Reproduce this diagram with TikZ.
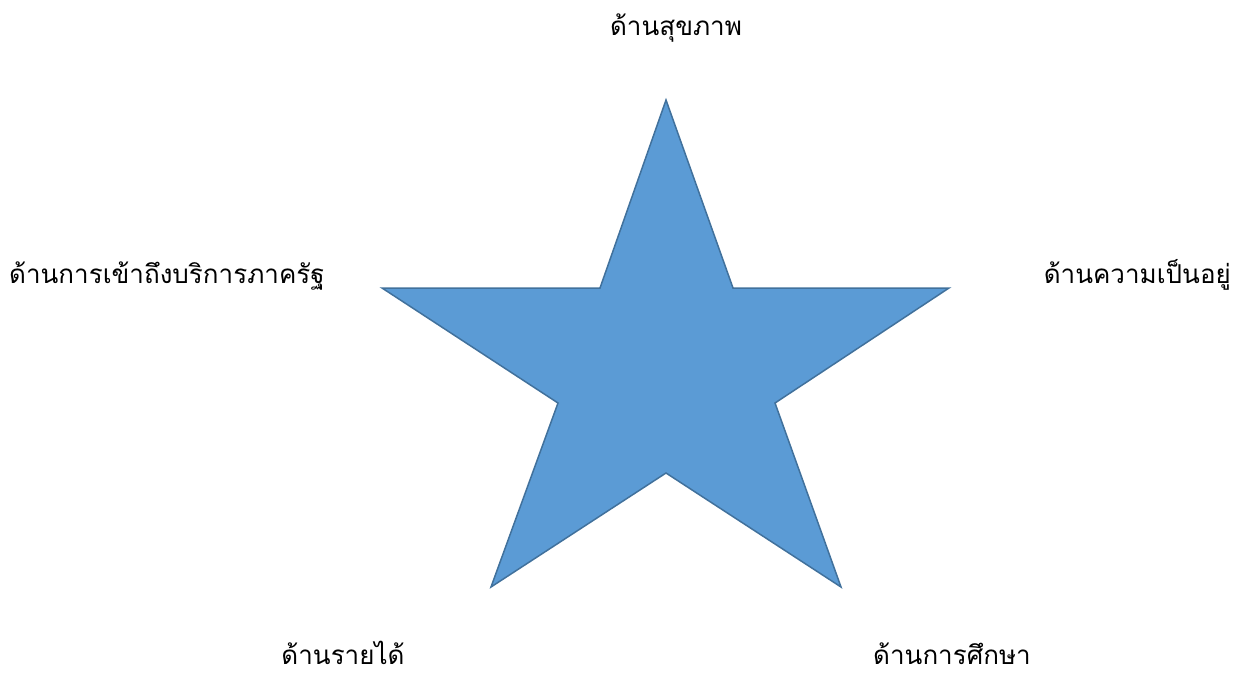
\documentclass[tikz,border=0pt]{standalone}
\usepackage{fontspec}
\newfontfamily\thaifont[Script=Thai]{Loma}
\definecolor{starfill}{HTML}{5B9BD5}
\definecolor{starline}{HTML}{41719C}
\tikzset{lbl/.style={font=\thaifont\fontsize{26}{30}\selectfont, inner sep=0pt}}
\begin{document}
\begin{tikzpicture}[x=1pt,y=-1pt]
\useasboundingbox (0,0) rectangle (1238,674);
\coordinate (T) at (666,100);
\coordinate (IR) at (733,288);
\coordinate (R) at (949,288);
\coordinate (IBR) at (775,403);
\coordinate (BR) at (841,587);
\coordinate (IB) at (666,473);
\coordinate (BL) at (491,587);
\coordinate (IBL) at (558,403);
\coordinate (L) at (382,288);
\coordinate (IL) at (600,288);
\draw[fill=starfill, draw=starline, line width=1.5pt, line join=miter]
  (T) -- (IR) -- (R) -- (IBR) -- (BR) -- (IB) -- (BL) -- (IBL) -- (L) -- (IL) -- cycle;
\node[lbl, anchor=base] (top) at (676,36) {ด้านสุขภาพ};
\node[lbl, anchor=base west] (left) at (9,283) {ด้านการเข้าถึงบริการภาครัฐ};
\node[lbl, anchor=base east] (right) at (1231,283) {ด้านความเป็นอยู่};
\node[lbl, anchor=base] (bl) at (343,664) {ด้านรายได้};
\node[lbl, anchor=base] (br) at (952,664) {ด้านการศึกษา};
\end{tikzpicture}
\end{document}
